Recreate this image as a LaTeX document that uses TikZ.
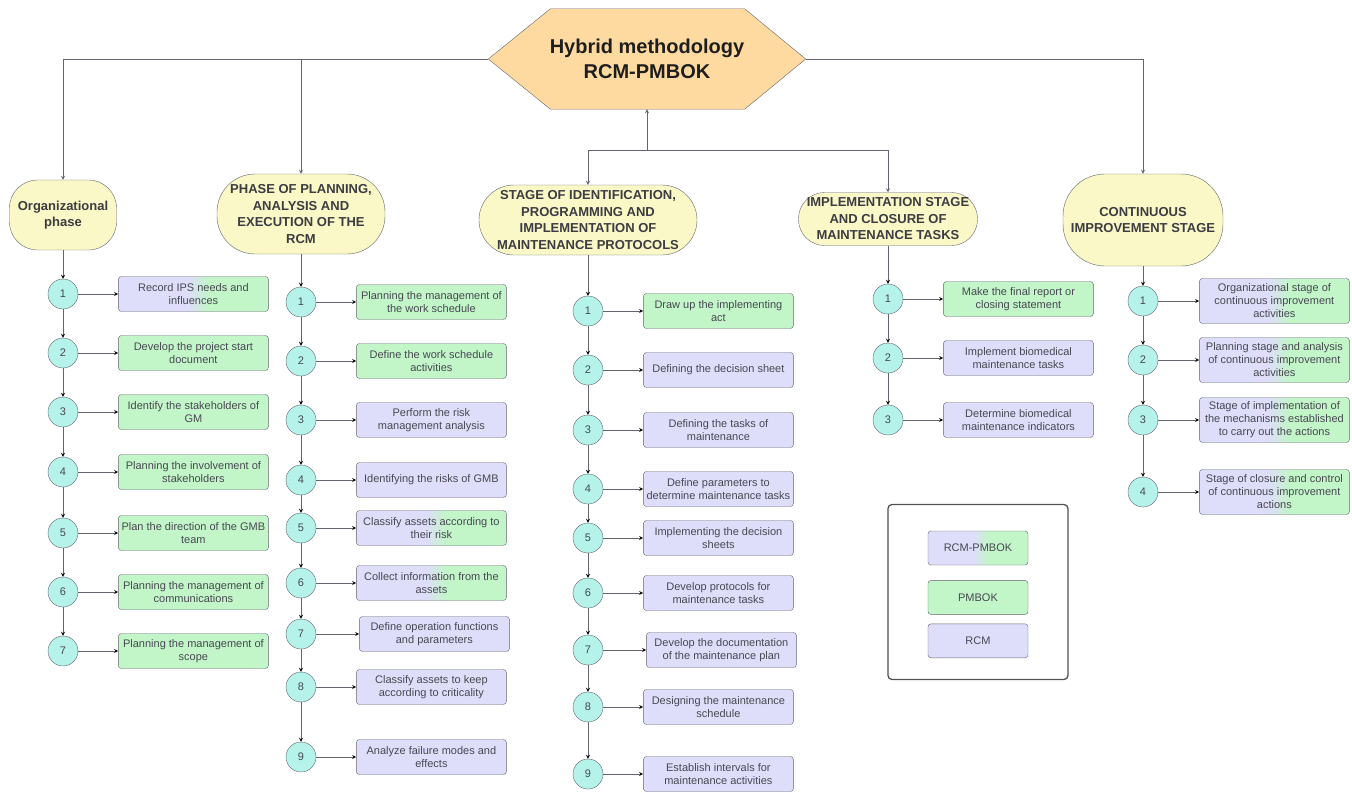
\documentclass[tikz,border=0pt]{standalone}
\usepackage{fontspec}
\setmainfont{Liberation Sans}
\usepackage{tikz}
\usetikzlibrary{positioning,backgrounds}
\definecolor{hexc}{RGB}{255,218,160}
\definecolor{phasec}{RGB}{250,248,198}
\definecolor{numc}{RGB}{180,242,234}
\definecolor{pmc}{RGB}{194,245,200}
\definecolor{rcmc}{RGB}{222,222,250}
\definecolor{edgec}{RGB}{100,100,110}
\definecolor{textc}{RGB}{72,72,82}
\definecolor{headc}{RGB}{60,60,66}
\pgfdeclarehorizontalshading{mixfill}{100bp}{color(0bp)=(rcmc); color(48bp)=(rcmc); color(55bp)=(pmc); color(100bp)=(pmc)}
\tikzset{
  phase/.style={draw=edgec, fill=phasec, align=center, inner sep=1pt, text=headc,
    font=\fontsize{13}{16.5}\selectfont\bfseries},
  num/.style={circle, draw=edgec, fill=numc, minimum size=30pt, inner sep=0pt, text=textc,
    font=\fontsize{11}{13}\selectfont},
  task/.style={draw=edgec, rounded corners=3pt, minimum width=150pt, minimum height=35pt,
    align=center, inner sep=1.5pt, text=textc, font=\fontsize{11}{13}\selectfont},
  pm/.style={task, fill=pmc},
  rcm/.style={task, fill=rcmc},
  mix/.style={task, shade, shading=mixfill},
  link/.style={->, draw=edgec, line width=0.8pt}
}
\begin{document}
\begin{tikzpicture}[x=1pt,y=-1pt,>=stealth]
\useasboundingbox (0,0) rectangle (1352,792);
\node[minimum width=317pt, minimum height=100pt, align=center,
  text={rgb,255:red,30;green,30;blue,30}, font=\fontsize{20}{25}\selectfont\bfseries]
  (hex) at (647,59) {Hybrid methodology\\RCM-PMBOK};
\begin{scope}[on background layer]
\draw[draw=edgec, fill=hexc] (hex.west) -- ([xshift=62pt]hex.north west) -- ([xshift=-61pt]hex.north east)
  -- (hex.east) -- ([xshift=-61pt]hex.south east) -- ([xshift=62pt]hex.south west) -- cycle;
\end{scope}
\node[phase, rounded corners=28pt, minimum width=107pt, minimum height=70pt] (org) at (63,215) {Organizational\\phase};
\node[phase, rounded corners=38pt, minimum width=168pt, minimum height=80pt] (plan) at (301,214) {PHASE OF PLANNING,\\ANALYSIS AND\\EXECUTION OF THE\\RCM};
\node[phase, rounded corners=35pt, minimum width=218pt, minimum height=70pt] (ident) at (588,220) {STAGE OF IDENTIFICATION,\\PROGRAMMING AND\\IMPLEMENTATION OF\\MAINTENANCE PROTOCOLS};
\node[phase, rounded corners=26pt, minimum width=179pt, minimum height=53pt] (close) at (888,219) {IMPLEMENTATION STAGE\\AND CLOSURE OF\\MAINTENANCE TASKS};
\node[phase, rounded corners=42pt, minimum width=160pt, minimum height=92pt] (cont) at (1143,220) {CONTINUOUS\\IMPROVEMENT STAGE};
\coordinate (split) at (647,150);
\draw[link] (hex.west) -| (org);
\draw[link] (hex.west -| plan) -- (plan);
\draw[link] (hex.east) -| (cont);
\draw[link] (split) -- (hex.south);
\draw[link] (split) -| (ident);
\draw[link] (split) -| (close);
%
\node[num] (o1) at (63,294) {1}; \node[mix, right=40pt of o1] (ob1) {Record IPS needs and\\influences};
\node[num] (o2) at (63,353) {2}; \node[pm, right=40pt of o2] (ob2) {Develop the project start\\document};
\node[num] (o3) at (63,412) {3}; \node[pm, right=40pt of o3] (ob3) {Identify the stakeholders of\\GM};
\node[num] (o4) at (63,472) {4}; \node[pm, right=40pt of o4] (ob4) {Planning the involvement of\\stakeholders};
\node[num] (o5) at (63,533) {5}; \node[pm, right=40pt of o5] (ob5) {Plan the direction of the GMB\\team};
\node[num] (o6) at (63,592) {6}; \node[pm, right=40pt of o6] (ob6) {Planning the management of\\communications};
\node[num] (o7) at (63,651) {7}; \node[pm, right=40pt of o7] (ob7) {Planning the management of\\scope};
\draw[link] (org) edge (o1) (o1) edge (o2) (o2) edge (o3) (o3) edge (o4) (o4) edge (o5) (o5) edge (o6) (o6) edge (o7);
\draw[link] (o1) edge (ob1) (o2) edge (ob2) (o3) edge (ob3) (o4) edge (ob4) (o5) edge (ob5) (o6) edge (ob6) (o7) edge (ob7);
%
\node[num] (p1) at (301,302) {1}; \node[pm, right=40pt of p1] (pb1) {Planning the management of\\the work schedule};
\node[num] (p2) at (301,361) {2}; \node[pm, right=40pt of p2] (pb2) {Define the work schedule\\activities};
\node[num] (p3) at (301,420) {3}; \node[rcm, right=40pt of p3] (pb3) {Perform the risk\\management analysis};
\node[num] (p4) at (301,480) {4}; \node[rcm, right=40pt of p4] (pb4) {Identifying the risks of GMB};
\node[num] (p5) at (301,528) {5}; \node[mix, right=40pt of p5] (pb5) {Classify assets according to\\their risk};
\node[num] (p6) at (301,583) {6}; \node[mix, right=40pt of p6] (pb6) {Collect information from the\\assets};
\node[num] (p7) at (301,634) {7}; \node[rcm, right=43pt of p7] (pb7) {Define operation functions\\and parameters};
\node[num] (p8) at (301,687) {8}; \node[rcm, right=40pt of p8] (pb8) {Classify assets to keep\\according to criticality};
\node[num] (p9) at (301,757) {9}; \node[rcm, right=40pt of p9] (pb9) {Analyze failure modes and\\effects};
\draw[link] (plan) edge (p1) (p1) edge (p2) (p2) edge (p3) (p3) edge (p4) (p4) edge (p5) (p5) edge (p6) (p6) edge (p7) (p7) edge (p8) (p8) edge (p9);
\draw[link] (p1) edge (pb1) (p2) edge (pb2) (p3) edge (pb3) (p4) edge (pb4) (p5) edge (pb5) (p6) edge (pb6) (p7) edge (pb7) (p8) edge (pb8) (p9) edge (pb9);
%
\node[num] (s1) at (588,311) {1}; \node[pm, right=40pt of s1] (sb1) {Draw up the implementing\\act};
\node[num] (s2) at (588,370) {2}; \node[rcm, right=40pt of s2] (sb2) {Defining the decision sheet};
\node[num] (s3) at (588,430) {3}; \node[rcm, right=40pt of s3] (sb3) {Defining the tasks of\\maintenance};
\node[num] (s4) at (588,489) {4}; \node[rcm, right=40pt of s4] (sb4) {Define parameters to\\determine maintenance tasks};
\node[num] (s5) at (588,538) {5}; \node[rcm, right=40pt of s5] (sb5) {Implementing the decision\\sheets};
\node[num] (s6) at (588,593) {6}; \node[rcm, right=40pt of s6] (sb6) {Develop protocols for\\maintenance tasks};
\node[num] (s7) at (588,650) {7}; \node[rcm, right=43pt of s7] (sb7) {Develop the documentation\\of the maintenance plan};
\node[num] (s8) at (588,707) {8}; \node[rcm, right=40pt of s8] (sb8) {Designing the maintenance\\schedule};
\node[num] (s9) at (588,774) {9}; \node[rcm, right=40pt of s9] (sb9) {Establish intervals for\\maintenance activities};
\draw[link] (ident) edge (s1) (s1) edge (s2) (s2) edge (s3) (s3) edge (s4) (s4) edge (s5) (s5) edge (s6) (s6) edge (s7) (s7) edge (s8) (s8) edge (s9);
\draw[link] (s1) edge (sb1) (s2) edge (sb2) (s3) edge (sb3) (s4) edge (sb4) (s5) edge (sb5) (s6) edge (sb6) (s7) edge (sb7) (s8) edge (sb8) (s9) edge (sb9);
%
\node[num] (i1) at (888,299) {1}; \node[pm, right=40pt of i1] (ib1) {Make the final report or\\closing statement};
\node[num] (i2) at (888,358) {2}; \node[rcm, right=40pt of i2] (ib2) {Implement biomedical\\maintenance tasks};
\node[num] (i3) at (888,420) {3}; \node[rcm, right=40pt of i3] (ib3) {Determine biomedical\\maintenance indicators};
\draw[link] (close) edge (i1) (i1) edge (i2) (i2) edge (i3);
\draw[link] (i1) edge (ib1) (i2) edge (ib2) (i3) edge (ib3);
%
\node[num] (c1) at (1143,301) {1}; \node[mix, minimum height=45pt, right=41pt of c1] (cb1) {Organizational stage of\\continuous improvement\\activities};
\node[num] (c2) at (1143,360) {2}; \node[mix, minimum height=45pt, right=41pt of c2] (cb2) {Planning stage and analysis\\of continuous improvement\\activities};
\node[num] (c3) at (1143,420) {3}; \node[mix, minimum height=45pt, right=41pt of c3] (cb3) {Stage of implementation of\\the mechanisms established\\to carry out the actions};
\node[num] (c4) at (1143,492) {4}; \node[mix, minimum height=45pt, right=41pt of c4] (cb4) {Stage of closure and control\\of continuous improvement\\actions};
\draw[link] (cont) edge (c1) (c1) edge (c2) (c2) edge (c3) (c3) edge (c4);
\draw[link] (c1) edge (cb1) (c2) edge (cb2) (c3) edge (cb3) (c4) edge (cb4);
%
\node[draw={rgb,255:red,80;green,80;blue,86}, line width=1.3pt, rounded corners=4pt, minimum width=180pt, minimum height=175pt] (legend) at (978,592) {};
\node[mix, minimum width=100pt, minimum height=34pt] (lmix) at (978,548) {RCM-PMBOK};
\node[pm, minimum width=100pt, minimum height=34pt, below=15pt of lmix] (lpm) {PMBOK};
\node[rcm, minimum width=100pt, minimum height=34pt, below=9pt of lpm] (lrcm) {RCM};
\end{tikzpicture}
\end{document}
